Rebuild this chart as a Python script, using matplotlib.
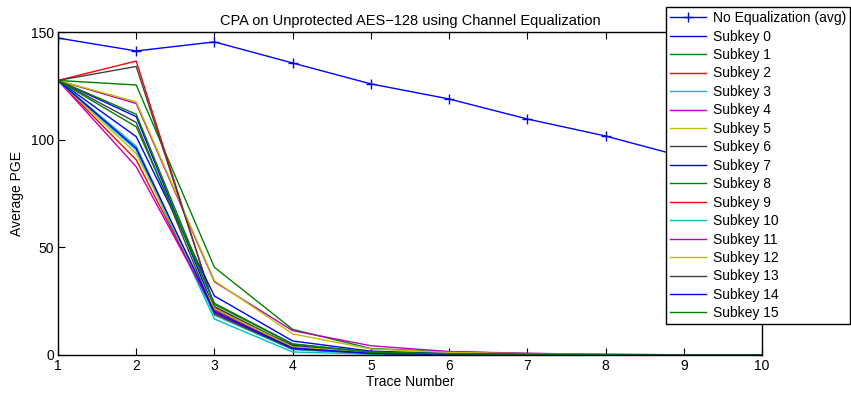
import numpy as np
import matplotlib
matplotlib.use('Agg')
from matplotlib import pyplot as plt

plt.rcParams['font.family'] = ['Liberation Sans', 'DejaVu Sans']

# trace numbers on the x axis
traces = np.arange(1, 11)

# average PGE without equalization
no_eq = [147.2, 141.2, 145.4, 135.6, 125.9, 118.9, 109.6, 101.7, 92.0, 83.0]

# PGE per subkey with channel equalization
sk0 = [127.5, 110.7, 21.0, 4.5, 1.0, 0.4, 0.2, 0.1, 0.0, 0.0]
sk1 = [127.5, 125.4, 40.7, 11.9, 3.0, 1.5, 0.7, 0.3, 0.1, 0.0]
sk2 = [127.5, 136.5, 22.0, 4.0, 1.2, 0.5, 0.2, 0.1, 0.0, 0.0]
sk3 = [127.5, 95.2, 16.7, 1.4, 0.4, 0.2, 0.1, 0.0, 0.0, 0.0]
sk4 = [127.5, 116.8, 34.0, 11.3, 4.3, 1.6, 0.8, 0.3, 0.1, 0.0]
sk5 = [127.5, 117.6, 34.5, 9.8, 2.8, 1.2, 0.6, 0.2, 0.1, 0.0]
sk6 = [127.5, 134.0, 22.5, 4.0, 1.0, 0.4, 0.2, 0.1, 0.0, 0.0]
sk7 = [127.5, 101.4, 27.4, 6.5, 1.8, 0.6, 0.3, 0.1, 0.0, 0.0]
sk8 = [127.5, 111.8, 23.5, 5.0, 1.4, 0.5, 0.2, 0.1, 0.0, 0.0]
sk9 = [127.5, 90.6, 19.5, 3.0, 0.8, 0.3, 0.1, 0.0, 0.0, 0.0]
sk10 = [127.5, 97.0, 18.5, 2.5, 0.6, 0.2, 0.1, 0.0, 0.0, 0.0]
sk11 = [127.5, 87.4, 20.5, 3.5, 0.9, 0.3, 0.1, 0.0, 0.0, 0.0]
sk12 = [127.5, 93.6, 21.5, 3.8, 1.0, 0.3, 0.1, 0.0, 0.0, 0.0]
sk13 = [127.5, 108.0, 19.0, 2.8, 0.7, 0.2, 0.1, 0.0, 0.0, 0.0]
sk14 = [127.5, 96.0, 20.0, 3.2, 0.8, 0.3, 0.1, 0.0, 0.0, 0.0]
sk15 = [127.5, 106.0, 24.0, 5.2, 1.3, 0.5, 0.2, 0.1, 0.0, 0.0]
subkeys = [sk0, sk1, sk2, sk3, sk4, sk5, sk6, sk7,
           sk8, sk9, sk10, sk11, sk12, sk13, sk14, sk15]

# old matlab colour order
colors = [(0, 0, 1), (0, 0.5, 0), (1, 0, 0), (0, 0.75, 0.75),
          (0.75, 0, 0.75), (0.75, 0.75, 0), (0.25, 0.25, 0.25)]

fig = plt.figure(figsize=(8.51, 3.94), dpi=100)
ax = fig.add_axes([58 / 851, 39 / 394, 704 / 851, 323 / 394])

ax.plot(traces, no_eq, color='b', marker='+', markersize=7, lw=1,
        label='No Equalization (avg)')
for i, sk in enumerate(subkeys):
    ax.plot(traces, sk, color=colors[i % 7], lw=1, label='Subkey %d' % i)

ax.set_xlim(1, 10)
ax.set_ylim(0, 150)
ax.set_xticks(traces)
ax.set_yticks([0, 50, 100, 150])
ax.tick_params(direction='in', top=True, right=True, labelsize=10, length=5, pad=3)
for s in ax.spines.values():
    s.set_linewidth(1)
ax.set_xlabel('Trace Number', fontsize=10, labelpad=1)
ax.set_ylabel('Average PGE', fontsize=10, labelpad=5)
ax.set_title('CPA on Unprotected AES\u2212128 using Channel Equalization', fontsize=10.5, pad=5)

leg = ax.legend(loc='upper left', bbox_to_anchor=(666 / 851, 1 - 7 / 394),
                bbox_transform=fig.transFigure, borderaxespad=0, fontsize=10,
                fancybox=False, framealpha=1, edgecolor='k',
                handlelength=2.6, handletextpad=0.45, labelspacing=0.32,
                borderpad=0.3)
leg.get_frame().set_linewidth(1)

fig.savefig('out.png', dpi=100)
